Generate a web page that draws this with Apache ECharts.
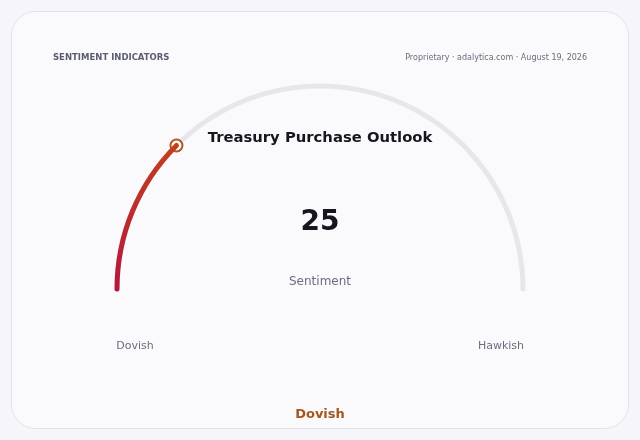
<!DOCTYPE html>
<html>
<head>
<meta charset="utf-8">
<style>
  html, body { margin: 0; padding: 0; background: #f6f6fa; }
  #chart { width: 640px; height: 440px; }
</style>
<script src="https://cdn.jsdelivr.net/npm/echarts@6/dist/echarts.min.js"></script>
</head>
<body>
<div id="chart"></div>
<script>
const chartTitle = 'Treasury Purchase Outlook';
const headerLeft = 'SENTIMENT INDICATORS';
const headerRight = 'Proprietary · adalytica.com · August 19, 2026';
const gaugeMin = 0;
const gaugeMax = 100;
const seriesName = 'Sentiment';
const seriesValues = [25];
const endLabels = ['Dovish', 'Hawkish'];
const verdict = 'Dovish';

const chart = echarts.init(document.getElementById('chart'), null, { renderer: 'canvas' });
const font = 'DejaVu Sans';

const option = {
  backgroundColor: '#f6f6fa',
  graphic: [
    {
      type: 'rect', z: -10,
      shape: { x: 11.5, y: 11.5, width: 617, height: 417, r: 24 },
      style: { fill: '#fafafd', stroke: '#e2e2ec', lineWidth: 1 }
    }
  ],
  title: [
    { text: headerLeft, left: 53, top: 53, padding: 0,
      textStyle: { fontFamily: font, fontSize: 8.5, fontWeight: 'bold', color: '#5a5d70' } },
    { text: headerRight, right: 53, top: 54, padding: 0,
      textStyle: { fontFamily: font, fontSize: 8, fontWeight: 'normal', color: '#6a6d7c' } },
    { text: chartTitle, left: 'center', top: 131, padding: 0,
      textStyle: { fontFamily: font, fontSize: 14.8, fontWeight: 'bold', color: '#16161e' } },
    { text: endLabels[0], left: 135, top: 341, textAlign: 'center', padding: 0,
      textStyle: { fontFamily: font, fontSize: 11, fontWeight: 'normal', color: '#6a6d7c' } },
    { text: endLabels[1], left: 501, top: 341, textAlign: 'center', padding: 0,
      textStyle: { fontFamily: font, fontSize: 11, fontWeight: 'normal', color: '#6a6d7c' } },
    { text: verdict, left: 'center', top: 408, padding: 0,
      textStyle: { fontFamily: font, fontSize: 13, fontWeight: 'bold', color: '#a5561c' } }
  ],
  series: [
    {
      type: 'gauge',
      center: [320, 289],
      radius: 205.5,
      startAngle: 180,
      endAngle: 0,
      min: gaugeMin,
      max: gaugeMax,
      axisLine: { roundCap: true, lineStyle: { width: 5, color: [[1, '#e6e6ec']] } },
      progress: {
        show: true, width: 5, roundCap: true,
        itemStyle: {
          color: new echarts.graphic.LinearGradient(0, 1, 0, 0, [
            { offset: 0, color: '#b5163f' },
            { offset: 1, color: '#c2401e' }
          ])
        }
      },
      pointer: {
        show: true,
        icon: 'circle',
        width: 12,
        length: 12,
        offsetCenter: [0, -197],
        itemStyle: { color: '#ffffff', borderColor: '#b3571a', borderWidth: 2 }
      },
      anchor: { show: false },
      axisTick: { show: false },
      splitLine: { show: false },
      axisLabel: { show: false },
      title: {
        show: true, offsetCenter: [0, -7],
        fontFamily: font, fontSize: 12, color: '#6a6d7c'
      },
      detail: {
        show: true, offsetCenter: [0, -66],
        fontFamily: font, fontSize: 28, fontWeight: 'bold', color: '#16161e',
        formatter: '{value}'
      },
      data: seriesValues.map(v => ({ value: v, name: seriesName }))
    }
  ]
};
chart.setOption(option);
</script>
</body>
</html>
